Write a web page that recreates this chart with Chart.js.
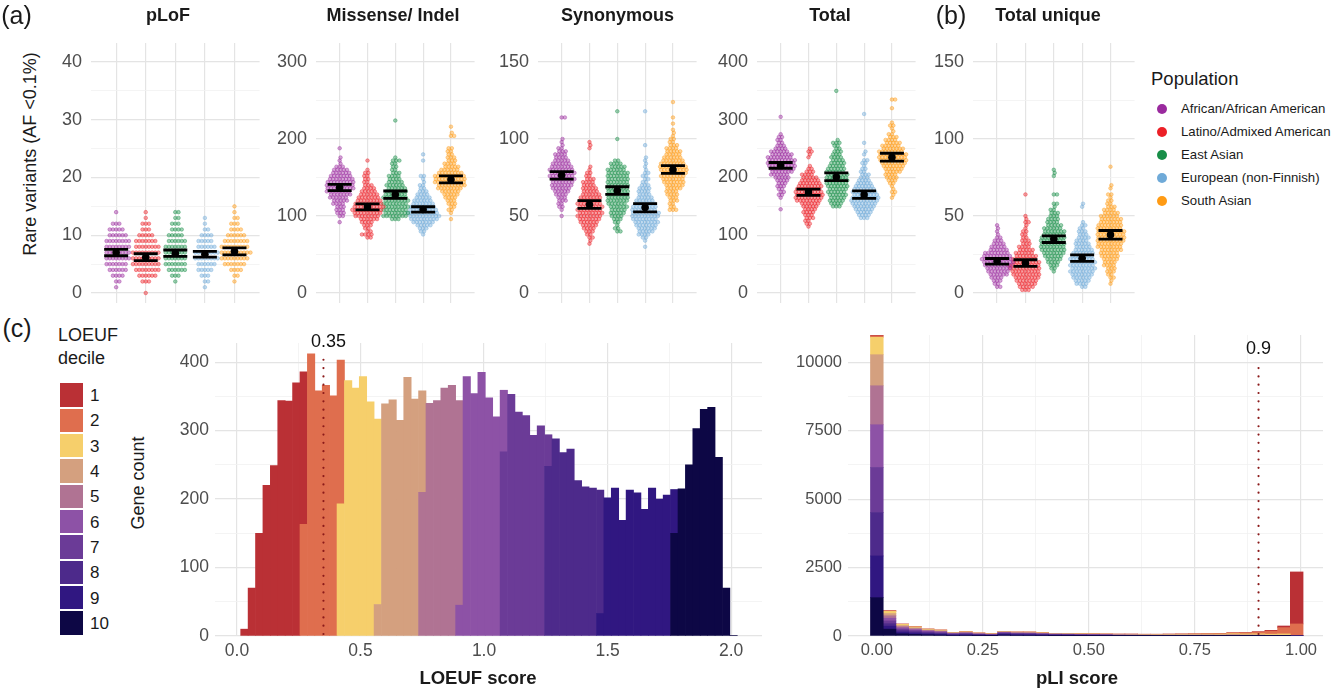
<!DOCTYPE html>
<html><head><meta charset="utf-8">
<script src="https://cdn.jsdelivr.net/npm/chart.js@4/dist/chart.umd.min.js"></script>
<style>
html,body{margin:0;padding:0;background:#fff;}
#root{position:relative;width:1333px;height:690px;overflow:hidden;font-family:"Liberation Sans",Arial,sans-serif;color:#1a1a1a;}
canvas{position:absolute;}
.t{position:absolute;white-space:nowrap;line-height:1;}
</style></head><body><div id="root"></div>
<script>
// ---------------- DATA ----------------
const populations = ['African/African American','Latino/Admixed American','East Asian','European (non-Finnish)','South Asian'];

// (a) pLoF: individuals per value (value = start + i*step)
const plofStart = [1, 0, 2, 1, 2];
const plofStep = 1;
const plofCounts = [
  [1,2,4,6,7,8,8,8,8,6,5,3,0,1],
  [1,0,3,6,8,9,9,9,8,7,5,3,3,1,1],
  [1,3,6,7,7,7,7,6,5,4,3,2,2],
  [1,2,3,5,6,8,8,6,5,4,2,1,1],
  [1,2,4,7,9,10,9,8,6,4,3,2,1,1]
];
const plofMean = [7.0, 6.2, 6.9, 6.7, 7.2];
const plofLow  = [6.45, 5.6, 6.35, 6.2, 6.6];
const plofHigh = [7.55, 6.8, 7.45, 7.2, 7.8];

// Missense/ Indel
const misStart = [92, 72, 96, 76, 96];
const misStep = 4;
const misCounts = [
  [1,0,2,3,3,3,4,5,6,7,8,9,9,9,8,7,6,5,3,1,1,1,0,0,1],
  [2,4,2,2,3,4,6,8,9,10,10,9,8,7,6,5,4,3,2,2,2,2,1,0,0,1],
  [3,8,8,8,8,8,8,8,7,7,6,6,5,4,4,3,2,2,2,3,1,0,0,0,0,0,0,0,0,0,0,0,1],
  [1,2,3,5,7,9,10,10,9,8,7,6,5,4,3,2,2,1,1,2,0,0,0,0,1,0,1],
  [1,0,1,2,2,3,3,4,5,6,8,9,10,10,10,8,6,5,4,3,3,2,2,2,0,0,0,2,1,0,1]
];
const misMean = [137, 112, 128, 108.5, 147.5];
const misLow  = [133, 108, 123, 105, 143];
const misHigh = [141, 115.7, 132.5, 112, 152];

// Synonymous
const synStart = [50, 32, 40, 30, 54];
const synStep = 2;
const synCounts = [
  [1,0,1,2,2,3,3,4,5,6,7,7,8,8,8,8,7,6,5,4,4,3,2,1,1,1,0,0,0,0,0,0,2],
  [1,1,2,2,3,4,5,6,7,8,8,8,8,8,7,7,6,5,5,4,4,3,2,2,1,1,0,0,0,0,0,1,1,1],
  [2,2,1,2,3,4,5,5,6,6,7,7,7,7,7,7,7,7,7,7,6,5,4,2,0,0,0,0,0,0,1,0,0,0,0,0,0,0,0,1],
  [1,0,1,2,4,5,6,7,8,8,9,9,8,8,7,6,5,4,4,4,3,2,2,2,2,1,1,1,1,1,0,0,0,1,0,0,0,0,0,0,0,0,0,0,1],
  [3,2,2,3,3,4,4,5,6,7,7,8,8,9,9,8,7,6,5,5,4,3,2,2,1,1,1,0,1,0,1,0,0,0,0,1]
];
const synMean = [76.4, 57.5, 66.5, 55.5, 80];
const synLow  = [74, 55, 64, 52.7, 77.7];
const synHigh = [78.8, 60, 69, 58, 82.7];

// Total
const totStart = [145, 115, 150, 130, 165];
const totStep = 5;
const totCounts = [
  [1,0,0,0,1,2,2,2,3,3,4,5,6,7,8,9,9,9,8,7,6,4,3,2,2,2,1,0,0,0,0,0,1],
  [1,2,2,3,3,4,4,5,6,8,9,9,9,8,8,7,6,5,4,3,2,1,0,0,1,1,2,1],
  [3,4,5,5,6,6,6,7,7,7,7,7,6,6,5,5,4,4,3,3,2,2,3,1,0,0,0,0,0,0,0,0,0,0,0,0,0,0,0,0,1],
  [3,4,5,6,7,8,9,9,8,8,7,6,5,4,3,3,2,2,1,2,2,0,1,1,0,0,1,0,0,0,0,0,0,0,0,0,1],
  [1,1,2,1,1,2,3,4,4,5,6,7,8,9,9,9,8,7,6,5,4,3,2,1,1,2,1,0,0,0,0,1,0,0,2]
];
const totMean = [221, 175, 201, 170, 235];
const totLow  = [216, 169, 194.5, 164, 228.5];
const totHigh = [226, 180, 208, 177, 242];

// (b) Total unique
const uniStart = [4, 2, 14, 4, 6];
const uniStep = 2;
const uniCounts = [
  [2,2,3,4,6,7,8,9,10,10,9,8,6,5,4,3,2,1,1,1,1],
  [3,5,6,7,8,9,9,10,10,9,8,7,6,5,4,3,3,2,2,2,1,1,2,1,1,0,0,0,0,0,0,1],
  [1,2,3,4,5,6,7,8,8,8,8,8,7,7,6,5,4,4,3,3,2,1,2,0,0,2,0,0,0,0,0,1,1,1],
  [2,4,5,6,7,8,8,8,8,8,7,7,6,5,5,4,4,3,3,2,2,1,0,0,0,0,1,1],
  [1,1,2,2,3,3,4,4,5,6,6,7,8,8,9,9,9,9,8,8,7,7,6,5,4,3,2,2,1,2,0,1,1,0,0,0,0,0,1]
];
const uniMean = [20.6, 19.4, 35, 22.6, 37.8];
const uniLow  = [18.8, 17.3, 32.8, 20.5, 35];
const uniHigh = [22.4, 21.6, 37.1, 24.8, 40.6];

// (c) LOEUF histogram: bins of width 0.03 centred on k*0.03; each decile starts at bin k = start
const loeufBinWidth = 0.03;
const loeufDecileStart = [1, 9, 14, 19, 25, 30, 36, 42, 49, 59];
const loeufCounts = [
  [10,70,150,220,249,344,343,370,223],
  [163,412,358,366,351,210],
  [193,373,362,379,342,271],
  [46,339,345,315,378,346,148],
  [210,340,344,362,366,299],
  [45,379,354,385,348,320,90],
  [269,353,327,322,293,307,46],
  [248,288,268,273,227,218,216,180],
  [33,202,216,169,213,209,185,216,200,206,64],
  [150,215,250,303,331,334,261,70,1]
];
const loeufCutoff = 0.35;

// pLI histogram: bins of width 0.03 centred on k*0.03, k = 0..33; counts per decile
const pliBinWidth = 0.03;
const pliCounts = [
  [20,5,2,2,1,1,1,1,1,1,1,1,1,1,1,1,1,1,1,1,1,1,1,1,2,2,2,3,5,8,15,30,60,1900],
  [50,20,10,8,6,5,4,4,3,3,4,4,4,4,3,4,4,4,4,6,7,7,8,9,10,12,14,18,30,40,65,110,230,420],
  [635,80,40,30,22,20,12,14,10,8,12,12,13,11,9,10,9,9,9,12,13,13,14,16,18,20,22,24,32,32,35,35,45,15],
  [1135,80,40,30,22,20,12,14,10,8,12,12,13,11,9,10,9,9,9,10,11,10,10,12,13,14,15,15,18,16,17,12,12,3],
  [1425,90,45,35,25,22,14,16,11,9,14,13,14,12,10,10,9,9,8,8,8,8,8,8,9,9,9,9,11,10,10,8,8,1],
  [1560,100,50,40,30,26,16,19,13,10,16,15,16,14,11,11,10,9,8,8,8,7,7,7,7,7,7,7,8,7,7,5,5,1],
  [1650,100,55,45,35,30,18,21,15,11,20,18,18,15,12,12,10,9,9,7,7,6,6,6,6,6,6,5,6,5,5,3,3,1],
  [1585,90,55,45,35,30,18,22,15,11,24,20,20,16,13,12,10,9,9,7,6,5,5,5,5,5,5,4,5,4,3,2,1,0],
  [1525,110,60,45,34,30,18,22,15,11,30,24,22,18,14,13,11,10,9,6,5,4,3,3,3,3,3,3,3,2,2,1,1,0],
  [1400,250,80,60,45,35,21,24,17,13,37,27,25,20,15,14,12,11,9,5,4,4,3,3,2,2,2,2,2,1,1,1,1,0]
];
const pliCutoff = 0.9;

// ---------------- STYLE ----------------
const popColors = [[154,42,158],[236,32,39],[24,142,72],[111,170,216],[255,155,20]];
const decileColors = ['#BA3035','#DF6E4E','#F6CF6B','#D4A07F','#B07393','#8D52A6','#6B3B97','#4D2A8B','#301781','#0D0745'];
const FONT = "'Liberation Sans', Arial, sans-serif";
Chart.defaults.font.family = FONT;
Chart.defaults.color = '#4D4D4D';
const GRID_MAJOR = '#E4E4E4', GRID_MINOR = '#F1F1F1';
const rgba = (c,a) => `rgba(${c[0]},${c[1]},${c[2]},${a})`;
const near = (a,b) => Math.abs(a-b) < 1e-6;
const isMult = (v,m) => near(v/m, Math.round(v/m));

const root = document.getElementById('root');
function txt(s, x, y, size, o = {}) {
  const d = document.createElement('div');
  d.className = 't'; d.textContent = s;
  d.style.left = x + 'px'; d.style.top = y + 'px';
  d.style.fontSize = size + 'px';
  if (o.bold) d.style.fontWeight = 'bold';
  if (o.color) d.style.color = o.color;
  const tx = o.align === 'left' ? '0' : '-50%';
  d.style.transform = `translate(${tx},-50%)` + (o.rot ? ` rotate(${o.rot}deg)` : '');
  root.appendChild(d);
}
function mkCanvas(left, top, w, h) {
  const c = document.createElement('canvas');
  c.width = w; c.height = h;
  c.style.left = left + 'px'; c.style.top = top + 'px';
  c.style.width = w + 'px'; c.style.height = h + 'px';
  root.appendChild(c);
  return c;
}
function range(a, b, s) { const out = []; for (let i = 0; a + i*s <= b + 1e-9; i++) out.push(+(a + i*s).toFixed(6)); return out; }

// beeswarm layout in pixel space (placement only)
function swarm(ys, d) {
  const placed = [], xs = [];
  ys.forEach((y) => {
    const forb = [];
    for (const q of placed) {
      const dy = Math.abs(y - q.y);
      if (dy < d) { const dx = Math.sqrt(d*d - dy*dy); forb.push([q.x - dx, q.x + dx]); }
    }
    const cands = [0];
    forb.forEach(([a,b]) => cands.push(a, b));
    cands.sort((a,b) => (Math.abs(a) - Math.abs(b)) || (b - a));
    let best = 0;
    for (const c of cands) {
      if (forb.every(([a,b]) => c <= a + 1e-6 || c >= b - 1e-6)) { best = c; break; }
    }
    placed.push({x: best, y}); xs.push(best);
  });
  return xs;
}

const errPlugin = {
  id: 'errbars',
  afterDatasetsDraw(chart) {
    const p = chart.$panel; if (!p) return;
    const {ctx, scales:{x, y}} = chart;
    ctx.save(); ctx.strokeStyle = '#000'; ctx.lineWidth = 2.8;
    p.mean.forEach((m, g) => {
      const cx = x.getPixelForValue(g + 1), yl = y.getPixelForValue(p.lo[g]), yh = y.getPixelForValue(p.hi[g]);
      const hw = 12;
      ctx.beginPath();
      ctx.moveTo(cx - hw, yl); ctx.lineTo(cx + hw, yl);
      ctx.moveTo(cx - hw, yh); ctx.lineTo(cx + hw, yh);
      ctx.moveTo(cx, yl); ctx.lineTo(cx, yh);
      ctx.stroke();
      ctx.beginPath(); ctx.fillStyle = '#000';
      ctx.arc(cx, y.getPixelForValue(m), 3.8, 0, Math.PI*2); ctx.fill();
    });
    ctx.restore();
  }
};

// ---------------- PANELS (a)/(b) ----------------
const panelDefs = [
  {title:'pLoF', tx:168, L:91.2, R:262.2, top:40, major:10, start:plofStart, step:plofStep, counts:plofCounts, mean:plofMean, lo:plofLow, hi:plofHigh},
  {title:'Missense/ Indel', tx:393, L:315.9, R:477.4, top:300, major:100, start:misStart, step:misStep, counts:misCounts, mean:misMean, lo:misLow, hi:misHigh},
  {title:'Synonymous', tx:617.5, L:537.6, R:699.1, top:150, major:50, start:synStart, step:synStep, counts:synCounts, mean:synMean, lo:synLow, hi:synHigh},
  {title:'Total', tx:830, L:756.9, R:918.4, top:400, major:100, start:totStart, step:totStep, counts:totCounts, mean:totMean, lo:totLow, hi:totHigh},
  {title:'Total unique', tx:1048, L:972.8, R:1137.2, top:150, major:50, start:uniStart, step:uniStep, counts:uniCounts, mean:uniMean, lo:uniLow, hi:uniHigh}
];
const AXW = 50, PT = 43, PB = 303, DOT = 3.2;

panelDefs.forEach(p => {
  const cv = mkCanvas(p.L - AXW, PT - 20, p.R - p.L + AXW, PB - PT + 40);
  const datasets = p.counts.map((cnt, g) => {
    const vals = [];
    cnt.forEach((n, i) => { for (let k = 0; k < n; k++) vals.push(p.start[g] + i * p.step); });
    return {
      data: vals.map(v => ({x: g + 1, y: v})),
      pointRadius: 1.8, pointHoverRadius: 1.8,
      backgroundColor: rgba(popColors[g], 0.42), borderColor: rgba(popColors[g], 0.7), borderWidth: 0.6
    };
  });
  const minor = p.major / 2;
  const yTicks = range(0, p.top, minor);
  const chart = new Chart(cv, {
    type: 'scatter',
    data: {datasets},
    options: {
      animation: false, responsive: false, events: [],
      layout: {padding: {top: 20, bottom: 20, left: 0, right: 0}},
      plugins: {legend: {display: false}, tooltip: {enabled: false}},
      scales: {
        x: {type: 'linear', min: 0.15, max: 5.85,
            afterBuildTicks: s => { s.ticks = [1,2,3,4,5].map(v => ({value: v})); },
            ticks: {display: false, autoSkip: false},
            grid: {color: GRID_MAJOR, lineWidth: 1.2, drawTicks: false},
            border: {display: false},
            afterFit: s => { s.height = 0; s.paddingLeft = 0; s.paddingRight = 0; }},
        y: {type: 'linear', min: -0.0433 * p.top, max: 1.0823 * p.top,
            afterBuildTicks: s => { s.ticks = yTicks.map(v => ({value: v})); },
            ticks: {autoSkip: false, padding: 9, color: '#4D4D4D', font: {size: 18},
                    callback: v => isMult(v, p.major) ? String(v) : ''},
            grid: {drawTicks: false,
                   color: c => isMult(c.tick.value, p.major) ? GRID_MAJOR : GRID_MINOR,
                   lineWidth: c => isMult(c.tick.value, p.major) ? 1.2 : 0.8},
            border: {display: false},
            afterFit: s => { s.width = AXW; s.paddingTop = 0; s.paddingBottom = 0; }}
      }
    },
    plugins: [errPlugin]
  });
  chart.$panel = p;
  const xs = chart.scales.x, ys = chart.scales.y;
  const pxu = xs.getPixelForValue(1) - xs.getPixelForValue(0);
  datasets.forEach((ds, g) => {
    const offs = swarm(ds.data.map(pt => ys.getPixelForValue(pt.y)), DOT);
    ds.data.forEach((pt, i) => { pt.x = g + 1 + offs[i] / pxu; });
  });
  chart.update('none');
  txt(p.title, p.tx, 15, 18, {bold: true});
});

// ---------------- reference-line plugin ----------------
function refLine(xVal, yTop, yLabel, label, dx) {
  return {
    id: 'refline',
    afterDatasetsDraw(chart) {
      const {ctx, scales:{x, y}} = chart;
      const px = x.getPixelForValue(xVal);
      ctx.save();
      ctx.strokeStyle = '#8B1A1A'; ctx.lineWidth = 2.2; ctx.lineCap = 'round';
      ctx.setLineDash([0.01, 8.3]);
      ctx.beginPath(); ctx.moveTo(px, y.getPixelForValue(0) - 2); ctx.lineTo(px, y.getPixelForValue(yTop)); ctx.stroke();
      ctx.setLineDash([]);
      ctx.fillStyle = '#111'; ctx.font = '18px ' + FONT; ctx.textAlign = 'center'; ctx.textBaseline = 'middle';
      ctx.fillText(label, px + dx, y.getPixelForValue(yLabel));
      ctx.restore();
    }
  };
}

function histOptions(o) {
  return {
    animation: false, responsive: false, events: [],
    layout: {padding: {top: 20, bottom: 10, left: 0, right: 0}},
    plugins: {legend: {display: false}, tooltip: {enabled: false}},
    datasets: {bar: {barPercentage: 1, categoryPercentage: 1, borderWidth: 0}},
    scales: {
      x: {type: 'linear', stacked: true, offset: false, min: o.xmin, max: o.xmax,
          afterBuildTicks: s => { s.ticks = o.xTicks.map(v => ({value: v})); },
          ticks: {autoSkip: false, maxRotation: 0, padding: 4.5, color: '#4D4D4D', font: {size: o.fs},
                  callback: v => isMult(v, o.xMajor) ? v.toFixed(o.xDec) : ''},
          grid: {offset: false, drawTicks: false,
                 color: c => isMult(c.tick.value, o.xMajor) ? GRID_MAJOR : GRID_MINOR,
                 lineWidth: c => isMult(c.tick.value, o.xMajor) ? 1.2 : 0.8},
          border: {display: false},
          afterFit: s => { s.height = 30; s.paddingLeft = 0; s.paddingRight = 0; }},
      y: {type: 'linear', stacked: true, min: 0, max: o.ymax,
          afterBuildTicks: s => { s.ticks = o.yTicks.map(v => ({value: v})); },
          ticks: {autoSkip: false, padding: 6, color: '#4D4D4D', font: {size: o.fsy},
                  callback: v => isMult(v, o.yMajor) ? String(v) : ''},
          grid: {drawTicks: false,
                 color: c => isMult(c.tick.value, o.yMajor) ? GRID_MAJOR : GRID_MINOR,
                 lineWidth: c => isMult(c.tick.value, o.yMajor) ? 1.2 : 0.8},
          border: {display: false},
          afterFit: s => { s.width = o.axw; s.paddingTop = 0; s.paddingBottom = 0; }}
    }
  };
}

// ---------------- LOEUF histogram ----------------
{
  const L = 215, R = 762, T = 343, B = 636, W = 60;
  const cv = mkCanvas(L - W, T - 20, R - L + W, (B - T) + 20 + 30 + 10);
  const datasets = [];
  for (let d = 9; d >= 0; d--) {
    datasets.push({
      label: String(d + 1),
      data: loeufCounts[d].map((c, i) => ({x: +((loeufDecileStart[d] + i) * loeufBinWidth).toFixed(4), y: c})),
      backgroundColor: decileColors[d]
    });
  }
  new Chart(cv, {
    type: 'bar', data: {datasets},
    options: histOptions({xmin: -0.089, xmax: 2.125, xTicks: range(0, 2, 0.25), xMajor: 0.5, xDec: 1,
                          ymax: 428, yTicks: range(0, 400, 50), yMajor: 100, axw: W, fs: 17.5, fsy: 17.5}),
    plugins: [refLine(loeufCutoff, 410, 429, '0.35', 5)]
  });
}

// ---------------- pLI histogram ----------------
{
  const L = 848, R = 1323, T = 335, B = 636, W = 65;
  const cv = mkCanvas(L - W, T - 20, R - L + W, (B - T) + 20 + 30 + 10);
  const datasets = [];
  for (let d = 9; d >= 0; d--) {
    datasets.push({
      label: String(d + 1),
      data: pliCounts[d].map((c, k) => ({x: +(k * pliBinWidth).toFixed(4), y: c})),
      backgroundColor: decileColors[d]
    });
  }
  new Chart(cv, {
    type: 'bar', data: {datasets},
    options: histOptions({xmin: -0.068, xmax: 1.052, xTicks: range(0, 1, 0.125), xMajor: 0.25, xDec: 2,
                          ymax: 11000, yTicks: range(0, 10000, 1250), yMajor: 2500, axw: W, fs: 16.5, fsy: 16.5}),
    plugins: [refLine(pliCutoff, 10000, 10474, '0.9', 0)]
  });
}

// ---------------- text, legends ----------------
txt('(a)', 16.5, 15, 25);
txt('(b)', 951, 15, 25);
txt('(c)', 17, 328, 25);
txt('Rare variants (AF <0.1%)', 30, 154, 18, {rot: -90});
txt('Population', 1151, 79, 18.5, {align: 'left'});
populations.forEach((name, i) => {
  const y = 108.5 + 23 * i;
  const dot = document.createElement('div');
  dot.style.cssText = `position:absolute;left:${1162-5}px;top:${y-5}px;width:10px;height:10px;border-radius:50%;background:${rgba(popColors[i],1)}`;
  root.appendChild(dot);
  txt(name, 1181, y, 13.2, {align: 'left'});
});
txt('LOEUF', 58, 335, 18, {align: 'left'});
txt('decile', 58, 358, 18, {align: 'left'});
decileColors.forEach((c, i) => {
  const top = 383.3 + 25.35 * i;
  const s = document.createElement('div');
  s.style.cssText = `position:absolute;left:60px;top:${top}px;width:23.3px;height:23.3px;background:${c}`;
  root.appendChild(s);
  txt(String(i + 1), 90, top + 11.65, 17, {align: 'left'});
});
txt('Gene count', 138, 483, 18, {rot: -90});
txt('LOEUF score', 478, 678, 18.5, {bold: true});
txt('pLI score', 1077, 678, 18.5, {bold: true});
</script></body></html>
